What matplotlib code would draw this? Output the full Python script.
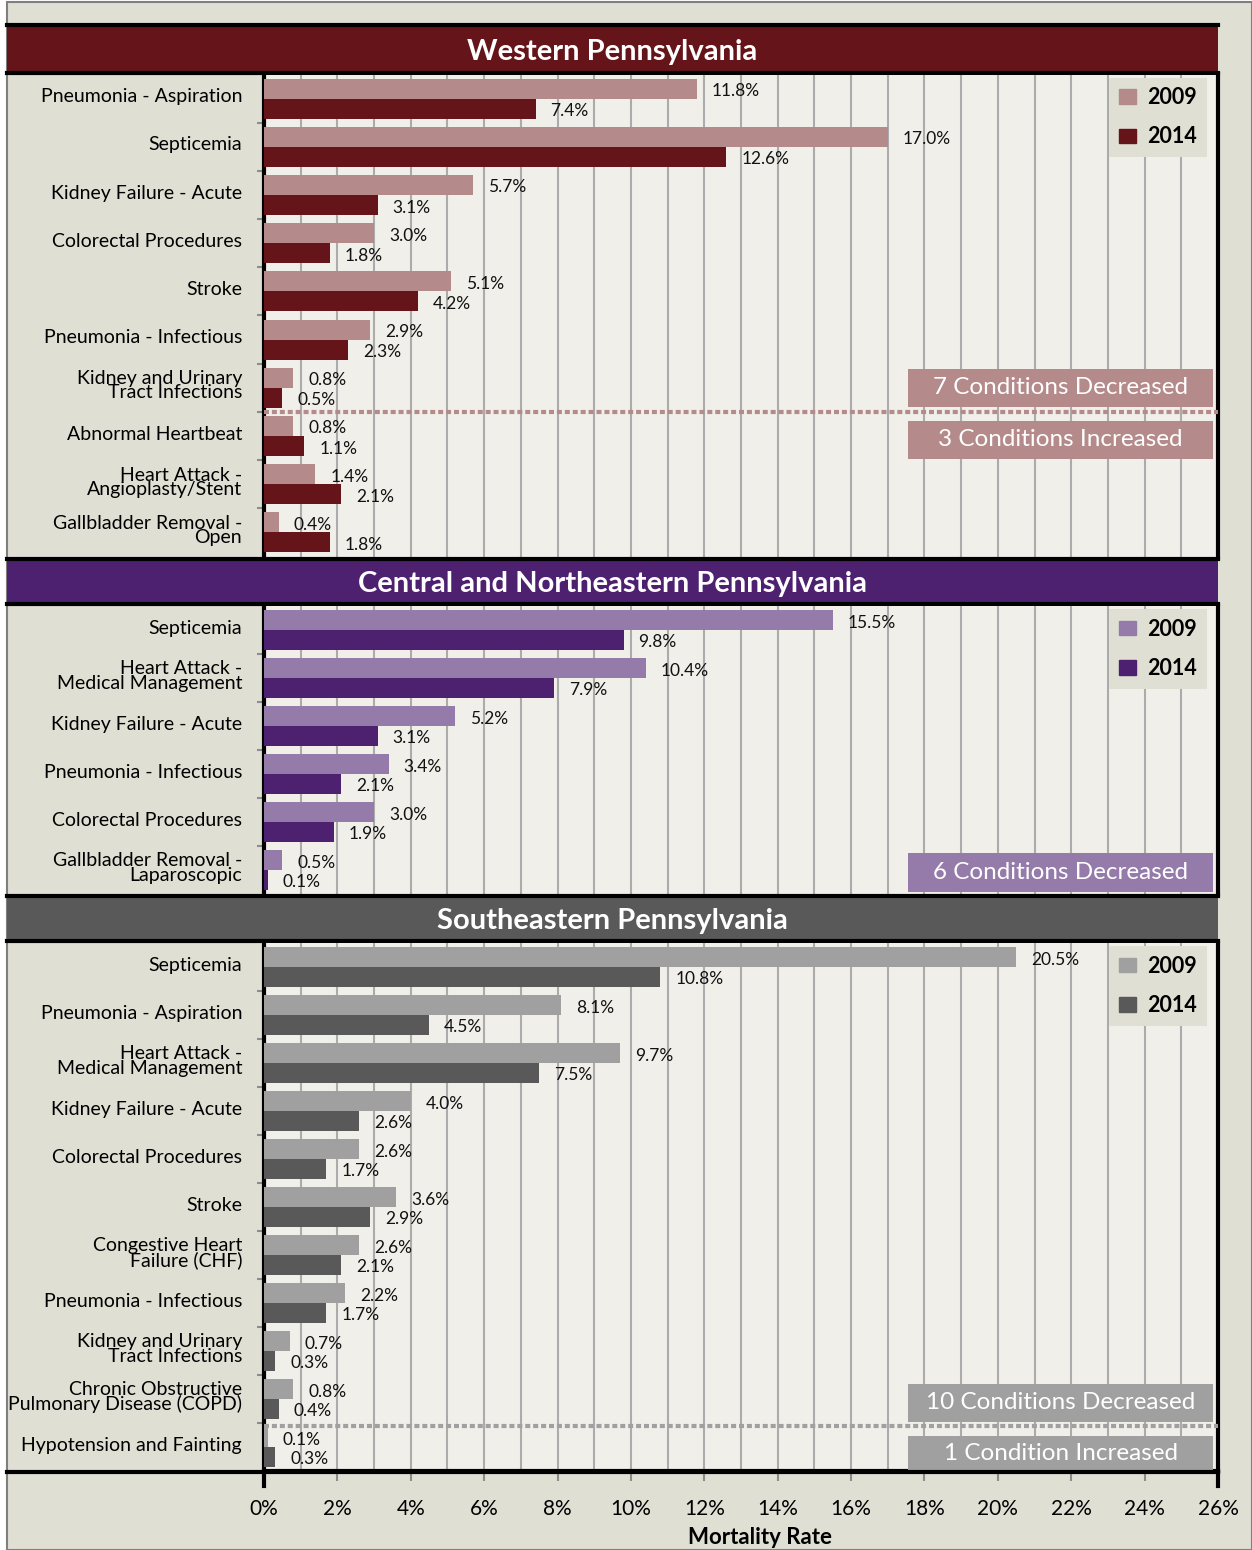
import numpy as np
import matplotlib.pyplot as plt
from matplotlib.patches import Rectangle, Patch
from matplotlib.lines import Line2D
import matplotlib.transforms as mtransforms

plt.rcParams['font.family'] = ['Lato', 'DejaVu Sans']

# ---- data ----
west_labels = ["Pneumonia - Aspiration", "Septicemia", "Kidney Failure - Acute",
               "Colorectal Procedures", "Stroke", "Pneumonia - Infectious",
               "Kidney and Urinary\nTract Infections", "Abnormal Heartbeat",
               "Heart Attack -\nAngioplasty/Stent", "Gallbladder Removal -\nOpen"]
west_2009 = [11.8, 17.0, 5.7, 3.0, 5.1, 2.9, 0.8, 0.8, 1.4, 0.4]
west_2014 = [7.4, 12.6, 3.1, 1.8, 4.2, 2.3, 0.5, 1.1, 2.1, 1.8]

central_labels = ["Septicemia", "Heart Attack -\nMedical Management", "Kidney Failure - Acute",
                  "Pneumonia - Infectious", "Colorectal Procedures",
                  "Gallbladder Removal -\nLaparoscopic"]
central_2009 = [15.5, 10.4, 5.2, 3.4, 3.0, 0.5]
central_2014 = [9.8, 7.9, 3.1, 2.1, 1.9, 0.1]

se_labels = ["Septicemia", "Pneumonia - Aspiration", "Heart Attack -\nMedical Management",
             "Kidney Failure - Acute", "Colorectal Procedures", "Stroke",
             "Congestive Heart\nFailure (CHF)", "Pneumonia - Infectious",
             "Kidney and Urinary\nTract Infections",
             "Chronic Obstructive\nPulmonary Disease (COPD)", "Hypotension and Fainting"]
se_2009 = [20.5, 8.1, 9.7, 4.0, 2.6, 3.6, 2.6, 2.2, 0.7, 0.8, 0.1]
se_2014 = [10.8, 4.5, 7.5, 2.6, 1.7, 2.9, 2.1, 1.7, 0.3, 0.4, 0.3]

years = ["2009", "2014"]
x_ticks = np.arange(0, 27, 2)

BEIGE = "#E0DFD4"
PLOT_BG = "#F0EFEA"
W, H = 1252, 1550


def rect(x0, y0, x1, y1):
    return [x0 / W, 1 - y1 / H, (x1 - x0) / W, (y1 - y0) / H]


panels = [
    dict(title="Western Pennsylvania", dark="#65151A", light="#B58A8A",
         labels=west_labels, v09=west_2009, v14=west_2014,
         head=(25, 72.5), plot=(74.5, 556.5), divider=6.5,
         boxes=[("7 Conditions Decreased", 5.6, 6.4), ("3 Conditions Increased", 6.68, 7.48)]),
    dict(title="Central and Northeastern Pennsylvania", dark="#4E2170", light="#957BAA",
         labels=central_labels, v09=central_2009, v14=central_2014,
         head=(558.5, 604), plot=(606, 894), divider=None,
         boxes=[("6 Conditions Decreased", 4.65, 5.45)]),
    dict(title="Southeastern Pennsylvania", dark="#595959", light="#A0A0A0",
         labels=se_labels, v09=se_2009, v14=se_2014,
         head=(896, 941), plot=(943, 1471), divider=9.56,
         boxes=[("10 Conditions Decreased", 8.68, 9.47), ("1 Condition Increased", 9.77, 10.5)]),
]

fig = plt.figure(figsize=(W / 100, H / 100), dpi=100, facecolor="white")
fig.patches.append(Rectangle((7 / W, 0), 1 - 7 / W, 1 - 2 / H, transform=fig.transFigure,
                             facecolor=BEIGE, edgecolor="#7F7F7F", lw=1.5, zorder=-10))

for k, p in enumerate(panels):
    # header band
    hx = fig.add_axes(rect(7, p["head"][0], 1218, p["head"][1]))
    hx.set_facecolor(p["dark"])
    hx.set_xticks([])
    hx.set_yticks([])
    for s in ["left", "right"]:
        hx.spines[s].set_visible(False)
    for s in ["top", "bottom"]:
        hx.spines[s].set_linewidth(3)
        hx.spines[s].set_color("black")
    hx.text(0.5, 0.44, p["title"], transform=hx.transAxes, ha="center", va="center",
            color="white", fontsize=21, fontweight="bold")

    # bar panel
    ax = fig.add_axes(rect(264, p["plot"][0], 1218, p["plot"][1]))
    ax.set_facecolor(PLOT_BG)
    n = len(p["labels"])
    y = np.arange(n)
    b1 = ax.barh(y - 0.2075, p["v09"], height=0.415, color=p["light"], zorder=3)
    b2 = ax.barh(y + 0.2075, p["v14"], height=0.415, color=p["dark"], zorder=3)
    for b in (b1, b2):
        anns = ax.bar_label(b, fmt="{:.1f}%", padding=10.8, fontsize=12.5,
                            color="#111111", zorder=5)
        for a in anns:
            a.xyann = (10.8, -1.8)

    ax.set_xlim(0, 26)
    ax.set_ylim(n - 0.5, -0.5)
    ax.set_xticks(x_ticks)
    ax.set_xticks(np.arange(0, 27, 1), minor=True)
    ax.grid(axis="x", which="both", color="#ABABAB", lw=1.5, zorder=1)
    ax.set_axisbelow(True)
    ax.tick_params(axis="x", which="minor", length=0)
    ax.set_yticks([])
    ax.set_yticks(np.arange(n - 1) + 0.5, minor=True)
    ax.tick_params(axis="y", which="minor", length=5, width=1.5, color="#8C8C8C", labelleft=False)
    ax.spines["top"].set_visible(False)
    for s in ["left", "right", "bottom"]:
        ax.spines[s].set_linewidth(3)
        ax.spines[s].set_color("black")
    if k < 2:
        ax.spines["bottom"].set_visible(False)
        ax.tick_params(axis="x", which="major", length=0, labelbottom=False)
    else:
        ax.set_xticklabels([f"{t}%" for t in x_ticks])
        ax.tick_params(axis="x", which="major", length=7, width=1.5, color="#8C8C8C",
                       labelsize=15, pad=13)

    # category labels
    for i, lab in enumerate(p["labels"]):
        ax.annotate(lab, xy=(0, i), xycoords=("axes fraction", "data"),
                    xytext=(-15.8, 1.4), textcoords="offset points",
                    ha="right", va="center", fontsize=14, linespacing=0.8,
                    annotation_clip=False)

    # divider and summary boxes
    if p["divider"] is not None:
        ax.axhline(p["divider"], color=p["light"], lw=3, ls=(0, (1.2, 0.7)), zorder=4)
    bt = mtransforms.blended_transform_factory(ax.transAxes, ax.transData)
    for txt, y0, y1 in p["boxes"]:
        x0 = (908 - 264) / 954
        x1 = (1213 - 264) / 954
        ax.add_patch(Rectangle((x0, y0), x1 - x0, y1 - y0, transform=bt,
                               facecolor=p["light"], edgecolor="none", zorder=6))
        ax.text((x0 + x1) / 2, (y0 + y1) / 2, txt, transform=bt, ha="center", va="center",
                color="white", fontsize=17.5, zorder=7)

    # legend
    hpx = p["plot"][1] - p["plot"][0]
    handles = [Patch(color=p["light"], label=years[0]), Patch(color=p["dark"], label=years[1])]
    ax.legend(handles=handles, loc="upper right", bbox_to_anchor=(1 - 11 / 954, 1 - 3 / hpx),
              borderaxespad=0, prop={"weight": "bold", "size": 15.5}, facecolor=BEIGE,
              edgecolor="none", framealpha=1, fancybox=False, handlelength=0.8,
              handleheight=0.65, handletextpad=0.55, labelspacing=0.85, borderpad=0.45)

# bottom rule and axis extensions
yb = 1 - 1472 / H
fig.add_artist(Line2D([7 / W, 1218 / W], [yb, yb], color="black", lw=3))
for xp in (264, 1218):
    fig.add_artist(Line2D([xp / W, xp / W], [yb, 1 - 1486 / H], color="black", lw=3))

fig.text(760 / W, 1 - 1538 / H, "Mortality Rate", ha="center", va="center",
         fontsize=16, fontweight="bold")

fig.savefig("out.png", dpi=100, facecolor="white")
